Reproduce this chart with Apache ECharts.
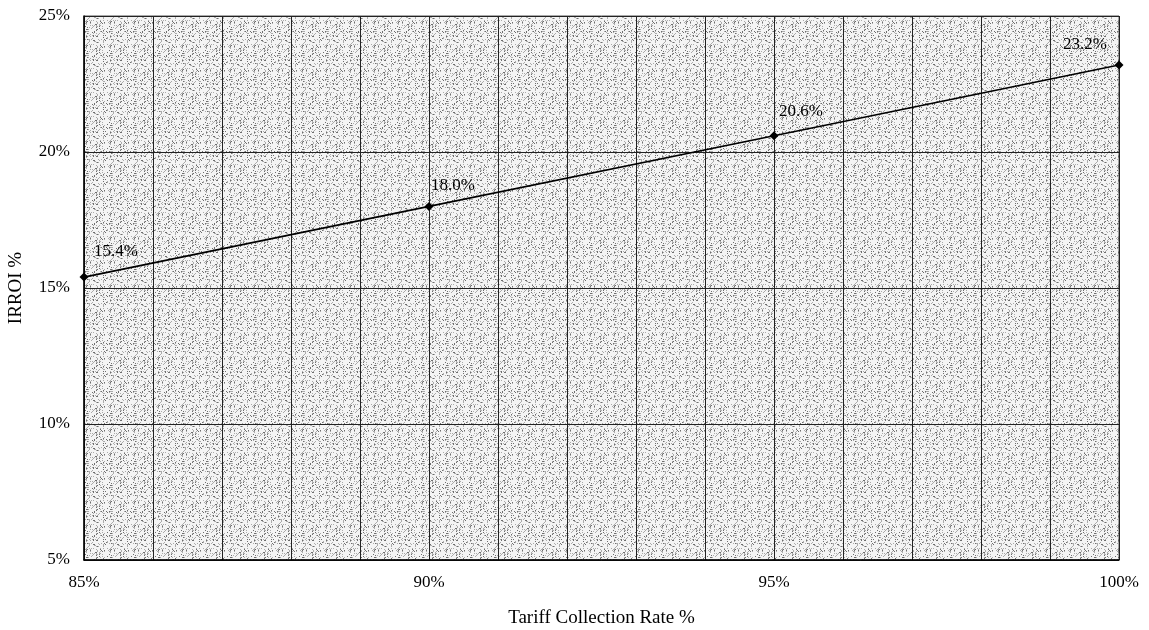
<!DOCTYPE html>
<html><head><meta charset="utf-8">
<script src="https://cdn.jsdelivr.net/npm/echarts@6/dist/echarts.min.js"></script>
<style>html,body{margin:0;padding:0;background:#fff}#c{width:1149px;height:630px}</style>
</head><body><div id="c"></div>
<script>
const collectionRates = [85, 90, 95, 100];
const irroiValues = [15.4, 18.0, 20.6, 23.2];
const xTicks = [85, 90, 95, 100];
const yTicks = [5, 10, 15, 20, 25];
const labelOffsets = [[32, -4], [24, 1], [27, -2], [-34, 2]];

// sparse dotted gray pattern (deterministic)
const N = 24;
const pc = document.createElement('canvas');
pc.width = N; pc.height = N;
const pctx = pc.getContext('2d');
pctx.fillStyle = '#f4f4f4'; pctx.fillRect(0,0,N,N);
for (let y=0;y<N;y++) for (let x=0;x<N;x++) {
  const h = ((x*73856093) ^ (y*19349663) ^ ((x+y)*83492791)) >>> 0;
  const r = h % 100;
  if (r < 20) { pctx.fillStyle = r < 7 ? '#6e6e6e' : '#ababab'; pctx.fillRect(x,y,1,1); }
}

const chart = echarts.init(document.getElementById('c'));
const font = 'Liberation Serif';
chart.setOption({
  backgroundColor: '#fff',
  animation: false,
  grid: { left: 84, right: 30, top: 16, bottom: 70, show: true, containLabel: false,
    outerBoundsMode: 'none',
    backgroundColor: { image: pc, repeat: 'repeat' }, borderColor: '#555', borderWidth: 1 },
  xAxis: {
    type: 'value', min: 85, max: 100, interval: 1,
    name: 'Tariff Collection Rate %', nameLocation: 'middle', nameGap: 49,
    nameTextStyle: { fontFamily: font, fontSize: 19, color: '#000' },
    axisLine: { show: true, onZero: false, lineStyle: { color: '#000', width: 1.5 } },
    axisTick: { show: false },
    splitLine: { show: true, lineStyle: { color: '#222', width: 1 } },
    axisLabel: { fontFamily: font, fontSize: 17, color: '#000', margin: 14,
      formatter: v => xTicks.includes(v) ? v + '%' : '' }
  },
  yAxis: {
    type: 'value', min: 5, max: 25, interval: 5,
    name: 'IRROI %', nameLocation: 'middle', nameGap: 58,
    nameTextStyle: { fontFamily: font, fontSize: 19, color: '#000' },
    axisLine: { show: true, lineStyle: { color: '#000', width: 1.5 } },
    axisTick: { show: false },
    splitLine: { show: true, lineStyle: { color: '#222', width: 1 } },
    axisLabel: { fontFamily: font, fontSize: 17, color: '#000', margin: 14,
      formatter: v => yTicks.includes(v) ? v + '%' : '' }
  },
  series: [{
    type: 'line',
    data: collectionRates.map((x, i) => ({
      value: [x, irroiValues[i]],
      label: { offset: labelOffsets[i] }
    })),
    symbol: 'diamond', symbolSize: 9,
    itemStyle: { color: '#000' },
    lineStyle: { color: '#000', width: 1.6 },
    label: { show: true, position: 'top', distance: 9, fontFamily: font, fontSize: 17, color: '#000',
      formatter: p => p.value[1].toFixed(1) + '%' }
  }]
});
</script></body></html>
